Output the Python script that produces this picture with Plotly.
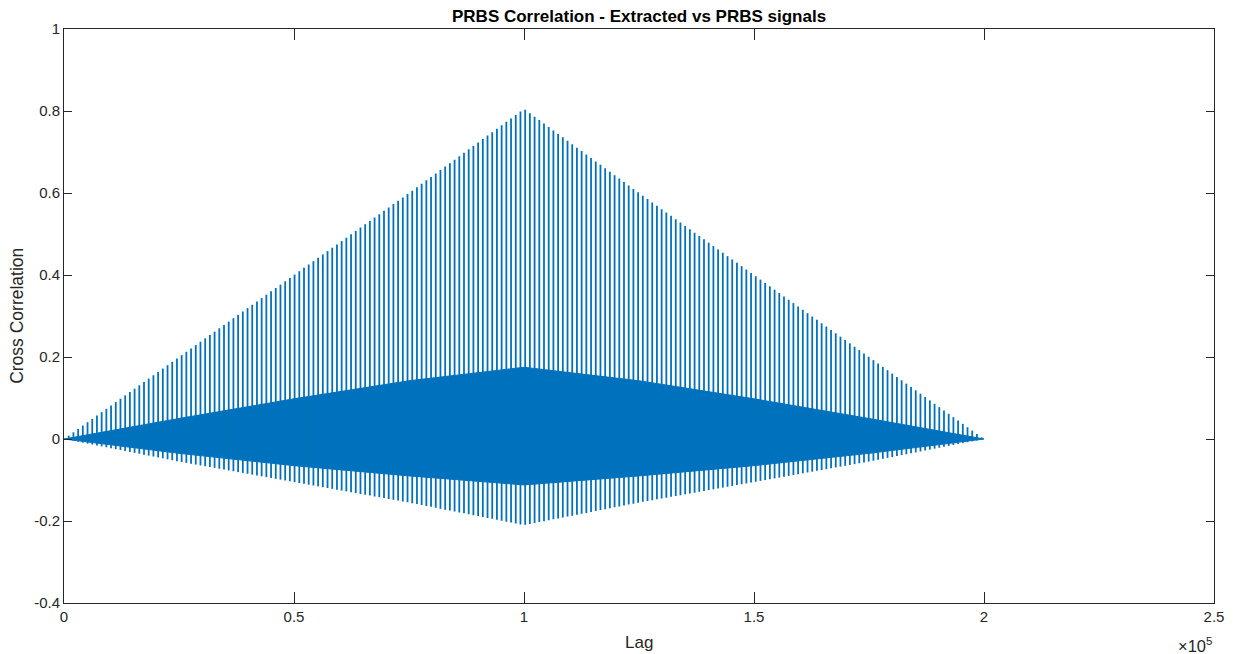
import numpy as np
import plotly.graph_objects as go

# ---- values ----
# envelope read points (lag, value)
env_lag = [0, 25000, 50000, 75000, 100000, 125000, 150000, 175000, 200000]
spike_top = [0.0, 0.20, 0.40, 0.60, 0.805, 0.60, 0.40, 0.20, 0.0]        # tall periodic peaks
spike_bottom = [0.0, -0.055, -0.105, -0.155, -0.21, -0.155, -0.105, -0.055, 0.0]  # negative peaks
band_upper = [0.0, 0.05, 0.098, 0.142, 0.175, 0.142, 0.098, 0.05, 0.0]    # dense band top
band_lower = [0.0, -0.035, -0.065, -0.09, -0.112, -0.09, -0.065, -0.035, 0.0]  # dense band bottom
spike_period = 1023          # lag between tall peaks (PRBS period)
max_lag = 200000

x_tick_vals = [0, 50000, 100000, 150000, 200000, 250000]
x_tick_text = ["0", "0.5", "1", "1.5", "2", "2.5"]
y_tick_vals = [-0.4, -0.2, 0, 0.2, 0.4, 0.6, 0.8, 1]
y_tick_text = ["-0.4", "-0.2", "0", "0.2", "0.4", "0.6", "0.8", "1"]

BLUE = "#0072BD"
AX = "#262626"

# spike positions and heights
lags = np.arange(spike_period, max_lag, spike_period)
tops = np.interp(lags, env_lag, spike_top)
bots = np.interp(lags, env_lag, spike_bottom)
sx, sy = [], []
for l, t, b in zip(lags, tops, bots):
    sx += [l, l, None]
    sy += [b, t, None]

fig = go.Figure()
# dense band
fig.add_trace(go.Scatter(
    x=env_lag + env_lag[::-1], y=band_upper + band_lower[::-1],
    fill="toself", fillcolor=BLUE, mode="lines",
    line=dict(color=BLUE, width=1), hoverinfo="skip", showlegend=False))
# spikes
fig.add_trace(go.Scatter(x=sx, y=sy, mode="lines",
                         line=dict(color=BLUE, width=1.8), showlegend=False))

fig.update_layout(
    width=1236, height=654,
    margin=dict(l=64, r=20, t=29, b=51),
    paper_bgcolor="white", plot_bgcolor="white",
    font=dict(family="Liberation Sans, Arial, sans-serif", size=15, color=AX),
    showlegend=False,
)
fig.update_xaxes(range=[0, 250000], tickvals=x_tick_vals, ticktext=x_tick_text,
                 showgrid=False, zeroline=False, showline=True, linecolor=AX,
                 linewidth=1, mirror="ticks", ticks="inside", ticklen=11,
                 tickcolor=AX, tickfont=dict(size=15, color=AX))
fig.update_yaxes(range=[-0.4, 1], tickvals=y_tick_vals, ticktext=y_tick_text,
                 showgrid=False, zeroline=False, showline=True, linecolor=AX,
                 linewidth=1, mirror="ticks", ticks="inside", ticklen=8,
                 tickcolor=AX, tickfont=dict(size=15, color=AX))

fig.add_annotation(text="<b>PRBS Correlation - Extracted vs PRBS signals</b>",
                   xref="paper", yref="paper", x=0.5, y=1, yshift=13,
                   showarrow=False, yanchor="middle",
                   font=dict(size=17, color="black"))
fig.add_annotation(text="Lag", xref="paper", yref="paper", x=0.5, y=-0.068,
                   showarrow=False, yanchor="middle", font=dict(size=17, color=AX))
fig.add_annotation(text="Cross Correlation", xref="paper", yref="paper",
                   x=-0.041, y=0.5, textangle=-90, showarrow=False,
                   xanchor="center", yanchor="middle", font=dict(size=17.5, color=AX))
fig.add_annotation(text="×10<sup>5</sup>", xref="paper", yref="paper", x=1.0,
                   y=-0.073, showarrow=False, xanchor="right", yanchor="middle",
                   font=dict(size=16.5, color=AX))

fig.write_html("out.html")
